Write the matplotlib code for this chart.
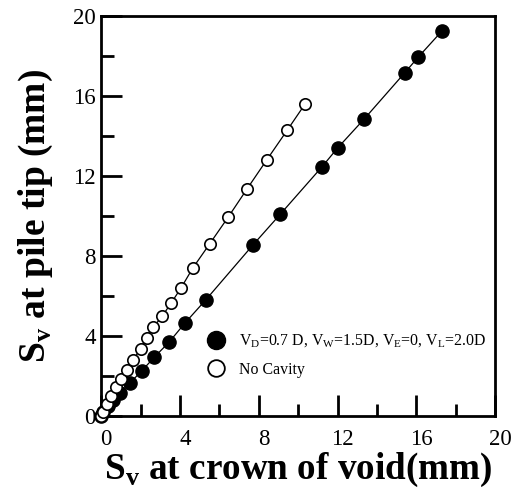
import matplotlib
matplotlib.use('Agg')
import matplotlib.pyplot as plt
from matplotlib.lines import Line2D
from matplotlib.transforms import ScaledTranslation

plt.rcParams['font.family'] = 'Liberation Serif'
plt.rcParams['mathtext.fontset'] = 'custom'
plt.rcParams['mathtext.rm'] = 'Liberation Serif'
plt.rcParams['mathtext.bf'] = 'Liberation Serif:bold'

# settlement at crown of void vs settlement at pile tip (mm)
cavity_x = [0, 0.1, 0.35, 0.6, 0.95, 1.45, 2.05, 2.7, 3.45, 4.25, 5.3,
            7.7, 9.1, 11.2, 12.0, 13.35, 15.4, 16.1, 17.3]
cavity_y = [0, 0.2, 0.5, 0.8, 1.15, 1.65, 2.25, 2.95, 3.7, 4.65, 5.8,
            8.55, 10.1, 12.45, 13.4, 14.85, 17.15, 17.95, 19.25]

nocav_x = [0, 0.1, 0.3, 0.5, 0.75, 1.0, 1.3, 1.6, 2.0, 2.3, 2.65, 3.1,
           3.55, 4.05, 4.65, 5.5, 6.45, 7.4, 8.4, 9.45, 10.35]
nocav_y = [0, 0.2, 0.6, 1.0, 1.45, 1.85, 2.3, 2.8, 3.35, 3.9, 4.45, 5.0,
           5.65, 6.4, 7.4, 8.6, 9.95, 11.35, 12.8, 14.3, 15.6]

cavity_label = (r'V$_{\mathrm{D}}$=0.7 D, V$_{\mathrm{W}}$=1.5D, '
                r'V$_{\mathrm{E}}$=0, V$_{\mathrm{L}}$=2.0D')
nocav_label = 'No Cavity'

fig = plt.figure(figsize=(5.19, 4.93), dpi=100)
ax = fig.add_axes([0.195, 0.156, 0.759, 0.8115])

ax.plot(cavity_x, cavity_y, '-', color='black', lw=0.9, marker='o',
        ms=9.5, mfc='black', mec='black', zorder=3, clip_on=False)
ax.plot(nocav_x, nocav_y, '-', color='black', lw=0.9, marker='o',
        ms=8.2, mfc='white', mec='black', mew=1.2, zorder=4, clip_on=False)

ax.set_xlim(0, 20)
ax.set_ylim(0, 20)
ax.set_xticks([0, 4, 8, 12, 16, 20])
ax.set_yticks([0, 4, 8, 12, 16, 20])
ax.set_xticks([2, 6, 10, 14, 18], minor=True)
ax.set_yticks([2, 6, 10, 14, 18], minor=True)
ax.tick_params(which='major', direction='in', length=15, width=2,
               labelsize=16.5, pad=9, top=False, right=False)
ax.tick_params(which='minor', direction='in', length=9, width=2,
               top=False, right=False)
ax.tick_params(axis='y', pad=4)
for s in ax.spines.values():
    s.set_linewidth(2)

# x tick labels sit a little right of their ticks
shift = ScaledTranslation(5 / 100, 0, fig.dpi_scale_trans)
for lab in ax.get_xticklabels():
    lab.set_transform(lab.get_transform() + shift)

ax.set_xlabel(r'S$_{\mathbf{v}}$ at crown of void(mm)', fontsize=26.7,
              fontweight='bold', labelpad=1)
ax.set_ylabel(r'S$_{\mathbf{v}}$ at pile tip (mm)', fontsize=27,
              fontweight='bold', labelpad=13)

handles = [
    Line2D([], [], ls='none', marker='o', ms=13, mfc='black', mec='black'),
    Line2D([], [], ls='none', marker='o', ms=12, mfc='white', mec='black', mew=1.3),
]
ax.legend(handles, [cavity_label, nocav_label], loc='lower left',
          bbox_to_anchor=(0.23, 0.06), frameon=False, fontsize=11.4,
          handlelength=1.2, handletextpad=0.9, labelspacing=0.75)

fig.savefig('out.png', dpi=100)
